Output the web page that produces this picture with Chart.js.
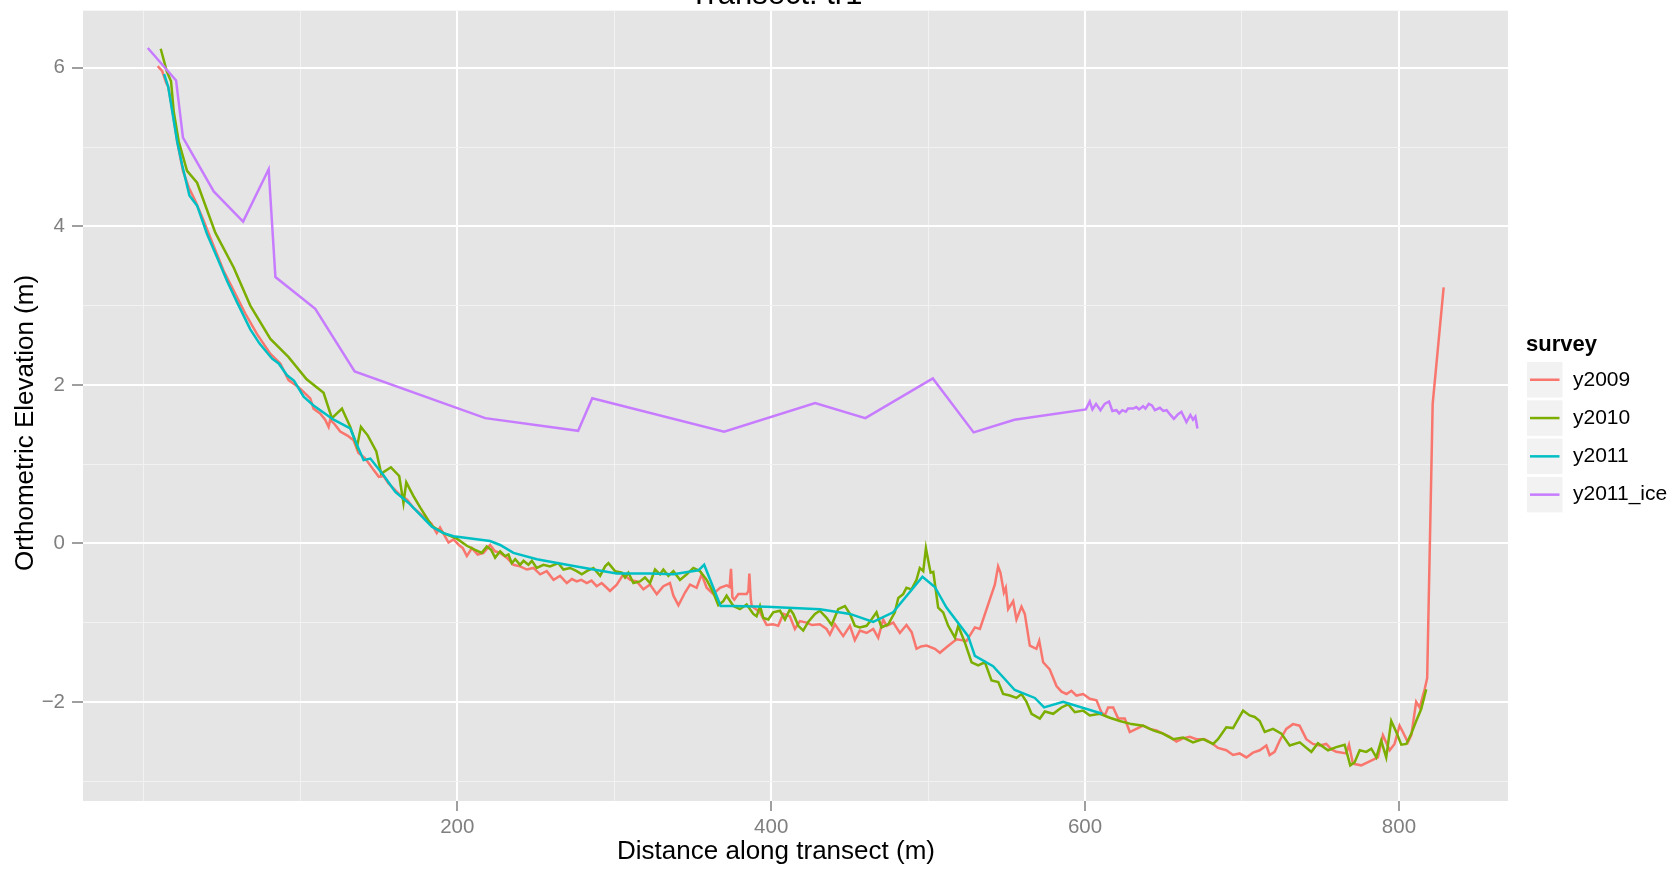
<!DOCTYPE html>
<html>
<head>
<meta charset="utf-8">
<script src="https://cdn.jsdelivr.net/npm/chart.js@4/dist/chart.umd.min.js"></script>
<style>
    html, body { margin: 0; padding: 0; background: #fff; overflow: hidden; }
</style>
</head>
<body>
<canvas id="transectChart" width="1675" height="870"></canvas>
<script>
// survey y2009
const dist2009 = [9.1, 11.9, 14.5, 15.8, 18.3, 21.5, 25.2, 28.9, 33.1, 38.4, 44.8, 51.1, 57.5, 64.9, 72.4, 80.9, 87.2, 92.5, 98.9, 106.3,
    108.4, 112.6, 115.8, 118.0, 119.0, 122.0, 125.4, 130.0, 133.9, 137.0, 141.0, 146.6, 150.0, 153.0, 156.0, 160.0, 163.6, 168.0, 172.0, 176.0,
    180.5, 183.5, 186.9, 189.0, 194.4, 197.6, 201.0, 203.5, 206.1, 209.3, 213.0, 216.7, 220.9, 224.0, 227.3, 231.5, 235.8, 240.0, 244.3, 248.5,
    252.8, 257.0, 261.3, 265.5, 269.8, 273.0, 276.1, 279.0, 282.5, 285.5, 288.8, 292.0, 295.2, 297.3, 301.6, 305.8, 310.1, 314.3, 318.6, 322.8,
    327.1, 331.3, 335.5, 337.7, 340.9, 345.1, 348.3, 352.5, 355.7, 358.9, 363.1, 367.4, 371.6, 373.5, 374.4, 375.3, 376.5, 379.1, 384.4, 385.5,
    386.1, 387.0, 387.6, 392.9, 397.1, 401.3, 404.5, 407.7, 411.9, 415.1, 418.3, 422.6, 426.0, 431.0, 435.3, 437.4, 440.6, 445.9, 450.2, 453.3,
    456.5, 460.8, 465.0, 468.2, 471.4, 473.5, 477.8, 482.0, 486.2, 489.5, 492.6, 495.5, 499.0, 504.3, 507.5, 511.7, 518.1, 524.5, 529.8, 533.0,
    539.3, 542.5, 544.6, 546.1, 548.3, 549.5, 551.0, 554.2, 556.3, 559.5, 561.6, 564.8, 569.0, 570.8, 573.3, 577.5, 581.8, 585.0, 588.2, 591.3,
    594.5, 598.8, 603.0, 607.3, 610.4, 612.6, 614.7, 617.9, 621.1, 625.3, 628.5, 632.7, 637.0, 641.2, 645.5, 649.7, 654.0, 658.2, 662.4, 666.7,
    670.9, 676.2, 681.5, 684.7, 690.0, 694.3, 698.5, 702.8, 707.0, 711.3, 715.5, 717.6, 720.8, 724.0, 728.2, 732.5, 736.7, 741.0, 745.2, 749.5,
    753.7, 757.0, 760.1, 766.5, 768.2, 770.7, 776.0, 781.3, 786.6, 789.8, 794.1, 797.2, 800.4, 802.5, 805.7, 807.9, 811.0, 813.2, 816.4, 818.0,
    821.5, 828.5];
const elev2009 = [6.02, 5.96, 5.81, 5.76, 5.49, 5.07, 4.70, 4.49, 4.32, 4.07, 3.75, 3.44, 3.19, 2.90, 2.64, 2.39, 2.27, 2.06, 1.97, 1.83,
    1.70, 1.64, 1.56, 1.47, 1.56, 1.50, 1.41, 1.36, 1.30, 1.14, 1.08, 0.93, 0.84, 0.85, 0.76, 0.68, 0.61, 0.55, 0.45, 0.38,
    0.30, 0.25, 0.13, 0.20, 0.01, 0.05, -0.02, -0.06, -0.16, -0.06, -0.14, -0.12, -0.02, -0.10, -0.12, -0.18, -0.27, -0.29, -0.33, -0.31,
    -0.39, -0.35, -0.46, -0.41, -0.50, -0.45, -0.48, -0.46, -0.50, -0.47, -0.54, -0.50, -0.56, -0.60, -0.52, -0.39, -0.46, -0.48, -0.58, -0.52,
    -0.64, -0.54, -0.50, -0.66, -0.78, -0.62, -0.52, -0.56, -0.39, -0.56, -0.64, -0.56, -0.53, -0.55, -0.32, -0.68, -0.71, -0.64, -0.64, -0.60,
    -0.38, -0.70, -0.79, -0.87, -1.03, -1.02, -1.04, -0.89, -0.92, -1.08, -0.98, -1.00, -1.03, -1.02, -1.08, -1.15, -1.02, -1.17, -1.04, -1.22,
    -1.10, -1.13, -1.08, -1.19, -0.96, -1.04, -1.00, -1.13, -1.03, -1.12, -1.33, -1.30, -1.29, -1.33, -1.38, -1.31, -1.21, -1.23, -1.06, -1.08,
    -0.71, -0.52, -0.29, -0.37, -0.62, -0.56, -0.83, -0.73, -0.96, -0.80, -0.89, -1.29, -1.33, -1.23, -1.50, -1.59, -1.80, -1.87, -1.90, -1.86,
    -1.92, -1.90, -1.96, -1.98, -2.13, -2.17, -2.07, -2.07, -2.21, -2.21, -2.38, -2.34, -2.30, -2.34, -2.36, -2.40, -2.44, -2.50, -2.46, -2.44,
    -2.47, -2.47, -2.53, -2.58, -2.61, -2.67, -2.65, -2.70, -2.64, -2.61, -2.55, -2.67, -2.63, -2.49, -2.34, -2.28, -2.30, -2.47, -2.53, -2.55,
    -2.53, -2.60, -2.63, -2.65, -2.54, -2.78, -2.80, -2.75, -2.70, -2.42, -2.61, -2.53, -2.30, -2.38, -2.51, -2.42, -2.00, -2.07, -1.84, -1.70,
    1.76, 3.23];

// survey y2010
const dist2010 = [11.0, 15.0, 17.6, 19.3, 22.5, 27.8, 34.2, 45.8, 57.5, 68.1, 80.9, 92.5, 104.0, 114.8, 120.1, 126.5, 131.8, 136.1, 138.6, 143.0,
    148.4, 151.5, 157.7, 163.0, 165.7, 167.5, 172.0, 176.4, 183.8, 191.2, 199.7, 206.1, 211.0, 215.6, 218.8, 221.5, 224.1, 227.3, 230.5, 232.6,
    234.7, 236.9, 240.0, 242.2, 245.3, 247.5, 250.6, 254.9, 259.1, 264.4, 267.6, 271.9, 276.1, 279.3, 282.5, 286.7, 291.0, 294.2, 296.3, 300.5,
    304.8, 306.9, 309.0, 312.2, 316.4, 319.6, 322.8, 326.0, 329.2, 331.3, 334.5, 337.7, 341.9, 346.2, 350.4, 354.6, 358.9, 363.1, 366.3, 369.5,
    371.6, 375.9, 380.1, 384.4, 388.6, 390.7, 392.9, 395.0, 398.2, 401.3, 405.6, 408.8, 412.0, 414.1, 417.3, 420.4, 423.6, 427.9, 431.0, 435.3,
    438.5, 442.7, 447.0, 450.2, 453.3, 456.5, 460.8, 463.9, 467.1, 470.3, 474.6, 478.8, 481.0, 484.1, 486.2, 489.4, 492.6, 494.7, 496.9, 498.6,
    500.1, 501.6, 503.3, 506.4, 509.6, 512.8, 517.1, 519.2, 523.4, 527.7, 531.9, 536.2, 540.4, 544.7, 547.8, 552.1, 556.3, 559.5, 562.7, 565.9,
    571.2, 574.4, 579.7, 585.0, 589.2, 593.5, 598.8, 603.0, 609.4, 615.8, 622.1, 629.6, 637.0, 643.4, 649.7, 656.1, 662.5, 668.8, 675.2, 681.6,
    684.7, 690.0, 694.3, 700.7, 704.9, 708.1, 711.3, 714.5, 719.8, 725.1, 730.4, 736.8, 744.2, 748.4, 754.8, 760.1, 765.4, 769.0, 771.8, 775.0,
    779.2, 782.4, 785.6, 788.7, 791.9, 795.1, 798.3, 801.5, 804.7, 807.9, 811.0, 814.2, 817.4];
const elev2010 = [6.24, 5.95, 5.83, 5.45, 5.07, 4.70, 4.55, 3.92, 3.48, 3.00, 2.58, 2.35, 2.07, 1.90, 1.58, 1.70, 1.47, 1.22, 1.47, 1.36,
    1.16, 0.88, 0.96, 0.85, 0.51, 0.77, 0.60, 0.45, 0.22, 0.13, 0.06, -0.03, -0.08, -0.12, -0.04, -0.08, -0.18, -0.10, -0.16, -0.14,
    -0.25, -0.20, -0.27, -0.22, -0.27, -0.22, -0.31, -0.27, -0.29, -0.25, -0.33, -0.31, -0.35, -0.39, -0.35, -0.31, -0.41, -0.29, -0.25, -0.35,
    -0.37, -0.43, -0.37, -0.50, -0.48, -0.43, -0.50, -0.33, -0.39, -0.33, -0.41, -0.35, -0.46, -0.39, -0.31, -0.35, -0.46, -0.62, -0.78, -0.73,
    -0.66, -0.79, -0.83, -0.77, -0.89, -0.92, -0.79, -0.94, -0.96, -0.87, -0.85, -0.96, -0.83, -0.89, -1.04, -1.10, -0.99, -0.89, -0.85, -0.94,
    -1.03, -0.83, -0.79, -0.89, -1.04, -1.06, -1.04, -0.96, -0.87, -1.06, -1.02, -0.87, -0.69, -0.64, -0.56, -0.58, -0.46, -0.31, -0.35, -0.06,
    -0.22, -0.37, -0.36, -0.81, -0.87, -1.04, -1.19, -1.04, -1.25, -1.50, -1.54, -1.50, -1.73, -1.75, -1.90, -1.92, -1.95, -1.90, -2.00, -2.15,
    -2.21, -2.12, -2.15, -2.07, -2.03, -2.13, -2.11, -2.17, -2.15, -2.20, -2.24, -2.28, -2.30, -2.36, -2.40, -2.47, -2.45, -2.51, -2.47, -2.53,
    -2.47, -2.32, -2.33, -2.11, -2.17, -2.19, -2.24, -2.38, -2.34, -2.40, -2.55, -2.51, -2.63, -2.52, -2.61, -2.57, -2.54, -2.80, -2.76, -2.61,
    -2.63, -2.59, -2.70, -2.49, -2.70, -2.24, -2.38, -2.54, -2.53, -2.40, -2.24, -2.09, -1.84];

// survey y2011
const dist2011 = [13.2, 15.8, 21.5, 24.6, 29.3, 34.2, 40.6, 46.9, 53.3, 59.7, 68.1, 74.0, 82.0, 86.2, 91.5, 96.0, 102.1, 108.4, 121.2, 131.8,
    136.1, 140.3, 144.6, 153.0, 160.5, 169.0, 176.4, 183.8, 191.2, 197.6, 220.9, 227.3, 235.8, 250.7, 269.8, 286.7, 301.6, 322.9, 337.7, 353.6,
    357.3, 367.8, 375.9, 397.1, 431.1, 450.2, 465.0, 477.7, 496.4, 504.3, 511.7, 525.5, 529.8, 541.4, 555.2, 568.0, 573.9, 586.0, 611.0];
const elev2011 = [5.92, 5.76, 5.07, 4.78, 4.39, 4.26, 3.90, 3.61, 3.31, 3.04, 2.70, 2.52, 2.33, 2.27, 2.12, 2.05, 1.85, 1.74, 1.56, 1.45,
    1.24, 1.05, 1.07, 0.86, 0.65, 0.51, 0.36, 0.21, 0.13, 0.09, 0.03, -0.02, -0.12, -0.20, -0.27, -0.33, -0.38, -0.38, -0.39, -0.34,
    -0.27, -0.79, -0.79, -0.80, -0.83, -0.89, -0.99, -0.87, -0.42, -0.55, -0.81, -1.17, -1.42, -1.55, -1.85, -1.95, -2.07, -2.00, -2.15];

// survey y2011_ice
const distIce = [2.8, 20.8, 25.2, 44.8, 63.5, 79.8, 84.1, 109.5, 134.6, 217.8, 277.0, 286.0, 370.0, 428.0, 460.0, 503.0, 529.0, 555.0, 600.5, 603.0,
    604.7, 607.0, 609.8, 612.5, 615.3, 617.4, 620.0, 621.7, 623.8, 626.0, 627.4, 630.6, 632.7, 634.4, 637.0, 638.5, 640.6, 642.6, 644.5, 647.7,
    649.8, 652.0, 654.0, 656.6, 659.3, 661.4, 664.6, 667.1, 668.8, 670.3, 671.6];
const elevIce = [6.25, 5.84, 5.12, 4.44, 4.06, 4.72, 3.36, 2.96, 2.17, 1.58, 1.42, 1.83, 1.41, 1.77, 1.58, 2.08, 1.40, 1.56, 1.69, 1.79,
    1.69, 1.76, 1.68, 1.76, 1.79, 1.67, 1.68, 1.64, 1.68, 1.66, 1.70, 1.70, 1.72, 1.69, 1.73, 1.70, 1.76, 1.74, 1.68, 1.71,
    1.67, 1.68, 1.63, 1.57, 1.63, 1.66, 1.53, 1.62, 1.56, 1.60, 1.45];

const surveys = ['y2009', 'y2010', 'y2011', 'y2011_ice'];
const surveyColors = ['#F8766D', '#7CAE00', '#00BFC4', '#C77CFF'];

// axis breaks (ggplot style: labelled majors + unlabelled minors)
const xBreaks = [0, 100, 200, 300, 400, 500, 600, 700, 800];
const xLabelled = [200, 400, 600, 800];
const yBreaks = [-3, -2, -1, 0, 1, 2, 3, 4, 5, 6];
const yLabelled = [-2, 0, 2, 4, 6];

const plotTitle = 'Transect: tr1';
const xTitle = 'Distance along transect (m)';
const yTitle = 'Orthometric Elevation (m)';
const legendTitle = 'survey';

const FONT = "'Liberation Sans', Arial, Helvetica, sans-serif";

function toPoints(xs, ys) {
    return xs.map((x, i) => ({ x: x, y: ys[i] }));
}

const panelBg = {
    id: 'panelBg',
    beforeDraw(chart) {
        const { ctx, chartArea: a } = chart;
        ctx.save();
        ctx.fillStyle = '#E5E5E5';
        ctx.fillRect(a.left, a.top, a.right - a.left, a.bottom - a.top);
        ctx.restore();
    }
};

// titles are centred on the plot (not the panel) like ggplot does
const ggTitles = {
    id: 'ggTitles',
    afterDraw(chart) {
        const ctx = chart.ctx;
        ctx.save();
        ctx.fillStyle = '#000';
        ctx.textAlign = 'center';
        ctx.font = '31px ' + FONT;
        ctx.textBaseline = 'alphabetic';
        ctx.fillText(plotTitle, 776, 3.5);
        ctx.font = '26px ' + FONT;
        ctx.textBaseline = 'middle';
        ctx.fillText(xTitle, 776, 852);
        ctx.translate(26, 423);
        ctx.rotate(-Math.PI / 2);
        ctx.fillText(yTitle, 0, 0);
        ctx.restore();
    }
};

// legend drawn like ggplot's: title + grey key boxes
const ggLegend = {
    id: 'ggLegend',
    afterDraw(chart) {
        const ctx = chart.ctx;
        const left = 1527, top = 362, size = 35.5, step = 38.3;
        ctx.save();
        ctx.fillStyle = '#000';
        ctx.font = 'bold 22px ' + FONT;
        ctx.textBaseline = 'alphabetic';
        ctx.textAlign = 'left';
        ctx.fillText(legendTitle, 1526, 351);
        ctx.font = '21px ' + FONT;
        chart.data.datasets.forEach((ds, i) => {
            const y = top + i * step;
            ctx.fillStyle = '#F2F2F2';
            ctx.fillRect(left, y, size, size);
            ctx.strokeStyle = ds.borderColor;
            ctx.lineWidth = 2.5;
            ctx.beginPath();
            ctx.moveTo(left + 3, y + size / 2);
            ctx.lineTo(left + size - 3, y + size / 2);
            ctx.stroke();
            ctx.fillStyle = '#000';
            ctx.textBaseline = 'middle';
            ctx.fillText(ds.label, 1573, y + size / 2);
        });
        ctx.restore();
    }
};

const series = [
    toPoints(dist2009, elev2009),
    toPoints(dist2010, elev2010),
    toPoints(dist2011, elev2011),
    toPoints(distIce, elevIce)
];

const ctx = document.getElementById('transectChart');
new Chart(ctx, {
    type: 'line',
    data: {
        datasets: surveys.map((name, i) => ({
            label: name,
            data: series[i],
            borderColor: surveyColors[i],
            backgroundColor: surveyColors[i],
            borderWidth: 2.5,
            pointRadius: 0,
            tension: 0,
            fill: false,
            order: surveys.length - i
        }))
    },
    options: {
        responsive: false,
        animation: false,
        layout: { padding: { left: 0, right: 167, top: 10.7, bottom: 0 } },
        plugins: {
            legend: { display: false },
            tooltip: { enabled: false },
            title: { display: false }
        },
        scales: {
            x: {
                type: 'linear',
                min: -38.5,
                max: 869.5,
                afterFit: s => {
                    s.height = 69;
                    s.paddingLeft = 0;
                    s.paddingRight = 0;
                },
                afterBuildTicks: s => { s.ticks = xBreaks.map(v => ({ value: v })); },
                border: { display: false },
                grid: {
                    color: c => xLabelled.includes(c.tick.value) ? '#FFFFFF' : '#F2F2F2',
                    lineWidth: c => xLabelled.includes(c.tick.value) ? 2 : 1,
                    tickColor: c => xLabelled.includes(c.tick.value) ? '#7F7F7F' : 'rgba(0,0,0,0)',
                    tickLength: 10,
                    tickWidth: 1.5
                },
                ticks: {
                    autoSkip: false,
                    maxRotation: 0,
                    padding: 4,
                    color: '#7F7F7F',
                    font: { family: FONT, size: 20.5 },
                    callback: v => xLabelled.includes(v) ? String(v) : ''
                }
            },
            y: {
                type: 'linear',
                min: -3.25,
                max: 6.72,
                afterFit: s => {
                    s.width = 83;
                    s.paddingTop = 0;
                    s.paddingBottom = 0;
                },
                afterBuildTicks: s => { s.ticks = yBreaks.map(v => ({ value: v })); },
                border: { display: false },
                grid: {
                    color: c => yLabelled.includes(c.tick.value) ? '#FFFFFF' : '#F2F2F2',
                    lineWidth: c => yLabelled.includes(c.tick.value) ? 2 : 1,
                    tickColor: c => yLabelled.includes(c.tick.value) ? '#7F7F7F' : 'rgba(0,0,0,0)',
                    tickLength: 11,
                    tickWidth: 1.5
                },
                ticks: {
                    autoSkip: false,
                    padding: 7,
                    color: '#7F7F7F',
                    font: { family: FONT, size: 20.5 },
                    callback: v => yLabelled.includes(v) ? (v < 0 ? '\u2212' + Math.abs(v) : String(v)) : ''
                }
            }
        }
    },
    plugins: [panelBg, ggTitles, ggLegend]
});
</script>
</body>
</html>
